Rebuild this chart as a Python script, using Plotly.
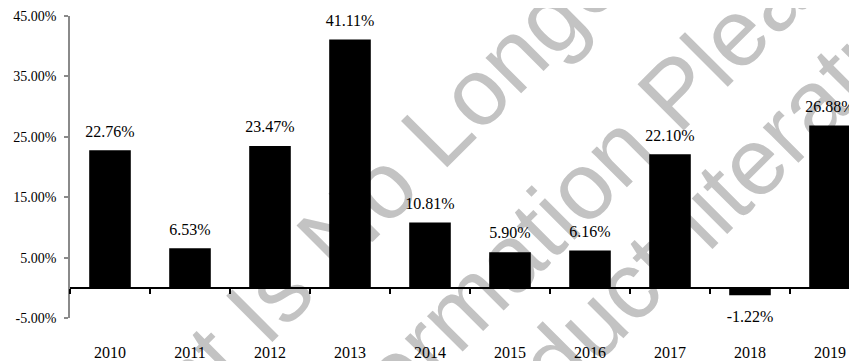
import plotly.graph_objects as go

years = ["2010", "2011", "2012", "2013", "2014", "2015", "2016", "2017", "2018", "2019"]
returns = [22.76, 6.53, 23.47, 41.11, 10.81, 5.90, 6.16, 22.10, -1.22, 26.88]
y_ticks = [-5, 5, 15, 25, 35, 45]
y_tick_labels = [f"{v:.2f}%" for v in y_ticks]
watermark_lines = ["This Document Is No Longer Current",
                   "Information Please",
                   "Product-literature"]

# the page body has an 8px default margin; compensate so the chart fills the window
BODY = 8
W, H = 857 - BODY, 361 - BODY
ML, MR, MT, MB = 70 - BODY, 0, 16 - BODY, 43
PW, PH = W - ML - MR, H - MT - MB
SERIF = "Liberation Serif, Times New Roman, serif"

fig = go.Figure()
fig.add_trace(go.Bar(
    x=years, y=returns, marker=dict(color="black", line=dict(width=0)),
    width=0.52, hoverinfo="skip", showlegend=False,
))
# data labels as a text trace (invisible markers set the offset)
fig.add_trace(go.Scatter(
    x=years, y=returns, mode="markers+text",
    text=[f"{v:.2f}%" for v in returns],
    textposition=["top center" if v >= 0 else "bottom center" for v in returns],
    marker=dict(size=[14 if v >= 0 else 22 for v in returns], opacity=0),
    textfont=dict(family=SERIF, size=16, color="black"),
    hoverinfo="skip", showlegend=False, cliponaxis=False,
))
# helper trace to activate the zero-axis
fig.add_trace(go.Scatter(x=[0], y=[0], xaxis="x2", yaxis="y", mode="markers",
                         marker=dict(opacity=0), hoverinfo="skip", showlegend=False))

# watermark (decorative), centres in window pixel space
wm_centres = [(315, 240), (574, 181), (682, 220)]
for txt, (cx, cy) in zip(watermark_lines, wm_centres):
    d = 5
    x0, y0 = cx - d, cy + d
    x1, y1 = cx + d, cy - d
    fig.add_shape(type="line", xref="paper", yref="paper", layer="below",
                  x0=(x0 - 70) / PW, y0=(318 - y0) / PH,
                  x1=(x1 - 70) / PW, y1=(318 - y1) / PH,
                  line=dict(width=1, color="rgba(0,0,0,0)"),
                  label=dict(text=txt, textangle=-45, textposition="middle",
                             xanchor="center", yanchor="middle", padding=0,
                             font=dict(family="Liberation Sans, Arial", size=95,
                                       color="#c3c3c3")))

n_range = [-0.5, -0.5 + PW / 80.0]
fig.update_layout(
    width=W, height=H,
    margin=dict(l=ML, r=MR, t=MT, b=MB, pad=0, autoexpand=False),
    paper_bgcolor="white", plot_bgcolor="rgba(0,0,0,0)",
    bargap=0.48,
    xaxis=dict(type="category", range=n_range, showline=False, showgrid=False,
               zeroline=False, ticks="outside", ticklen=20, automargin=False,
               tickcolor="rgba(0,0,0,0)",
               tickfont=dict(family=SERIF, size=16, color="black")),
    xaxis2=dict(overlaying="x", anchor="free", position=0.1, type="linear",
                range=n_range, showline=True, linecolor="black", linewidth=2,
                ticks="outside", ticklen=5, tickwidth=1.5, tickcolor="black",
                tickmode="array", tickvals=[i - 0.5 for i in range(11)],
                automargin=False,
                showticklabels=False, showgrid=False, zeroline=False, side="bottom"),
    yaxis=dict(range=[-5, 45], tickmode="array", tickvals=y_ticks,
               ticktext=y_tick_labels, showline=True, linecolor="#8a8a8a",
               linewidth=1.5, ticks="outside", ticklen=4, tickwidth=1.5,
               tickcolor="#8a8a8a", showgrid=False, zeroline=False,
               ticklabelstandoff=5, automargin=False,
               tickfont=dict(family=SERIF, size=14, color="black")),
)

fig.write_html("out.html")
